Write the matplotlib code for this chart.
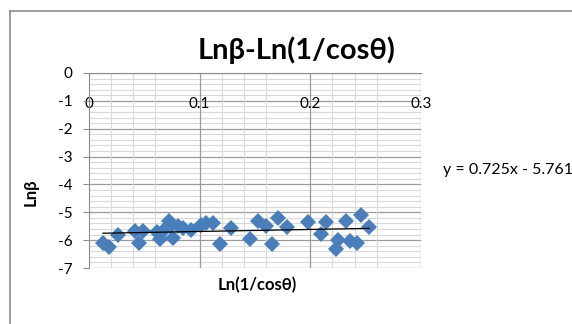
import numpy as np
import matplotlib
matplotlib.use("Agg")
import matplotlib.pyplot as plt
from matplotlib.lines import Line2D

plt.rcParams['font.family'] = ['Lato', 'DejaVu Sans']
plt.rcParams['axes.unicode_minus'] = False

# %% data
ln_inv_cos = [0.0126, 0.018, 0.0259, 0.0414, 0.0489, 0.045, 0.061, 0.064,
              0.068, 0.072, 0.073, 0.076, 0.080, 0.085, 0.0925, 0.1015,
              0.106, 0.112, 0.118, 0.1285, 0.1457, 0.1525, 0.160, 0.1655,
              0.1705, 0.1786, 0.1976, 0.2096, 0.2141, 0.2246, 0.2232,
              0.2322, 0.2358, 0.2426, 0.2457, 0.2532]
ln_beta = [-6.09, -6.24, -5.80, -5.67, -5.67, -6.09, -5.70, -5.97,
           -5.62, -5.32, -5.48, -5.94, -5.49, -5.58, -5.62, -5.44,
           -5.38, -5.38, -6.13, -5.56, -5.97, -5.32, -5.49, -6.15,
           -5.22, -5.53, -5.34, -5.77, -5.34, -6.01, -6.33,
           -5.32, -6.03, -6.09, -5.10, -5.53]
slope, intercept = 0.725, -5.761
x_ticks = [0, 0.1, 0.2, 0.3]
x_tick_labels = ["0", "0.1", "0.2", "0.3"]
y_ticks = [0, -1, -2, -3, -4, -5, -6, -7]

# %% figure
fig = plt.figure(figsize=(5.72, 3.24), dpi=100)
ax = fig.add_axes([89 / 572, 1 - 268 / 324, 332 / 572, 195 / 324])

# chart frame (left + top only visible)
fig.add_artist(Line2D([10 / 572, 10 / 572], [0, 1 - 11 / 324],
                      transform=fig.transFigure, color="#8c8c8c", lw=1.2))
fig.add_artist(Line2D([10 / 572, 1], [1 - 11 / 324, 1 - 11 / 324],
                      transform=fig.transFigure, color="#8c8c8c", lw=1.2))

ax.set_xlim(0, 0.3)
ax.set_ylim(-7, 0)

# gridlines
for y in np.arange(-7, 0.01, 0.2):
    major = abs(y - round(y)) < 1e-6
    ax.axhline(y, color="#9a9a9a" if major else "#d9d9d9",
               lw=0.9 if major else 0.8, zorder=0)
for x in [0.02, 0.04, 0.06, 0.12, 0.14, 0.16, 0.22, 0.24, 0.26]:
    ax.axvline(x, color="#d9d9d9", lw=0.8, zorder=0)
for x in [0.1, 0.2, 0.3]:
    ax.axvline(x, color="#9a9a9a", lw=0.9, zorder=0)

ax.plot(ln_inv_cos, ln_beta, "D", color="#4a7ebb", markersize=8,
        markeredgewidth=0, zorder=3)
xs = np.array([min(ln_inv_cos), max(ln_inv_cos)])
ax.plot(xs, slope * xs + intercept, color="black", lw=0.9, zorder=4)

for s in ["top", "right"]:
    ax.spines[s].set_visible(False)
ax.spines["left"].set_color("#8c8c8c")
ax.spines["bottom"].set_color("#8c8c8c")
ax.spines["bottom"].set_position(("data", 0))
ax.set_xticks(x_ticks)
ax.set_xticklabels(x_tick_labels)
ax.set_yticks(y_ticks)
ax.tick_params(axis="x", length=0, pad=17, labelsize=11, colors="black")
ax.tick_params(axis="y", length=4, width=0.8, color="#8c8c8c", pad=8,
               labelsize=11)

fig.text(297 / 572, 1 - 50 / 324, "Lnβ-Ln(1/cosθ)", fontsize=21,
         fontweight="bold", ha="center", va="center")
fig.text(257 / 572, 1 - 285 / 324, "Ln(1/cosθ)", fontsize=12,
         fontweight="bold", ha="center", va="center")
fig.text(31 / 572, 1 - 192 / 324, "Lnβ", fontsize=12, fontweight="bold",
         rotation=90, ha="center", va="center")
fig.text(443 / 572, 1 - 170 / 324, "y = 0.725x - 5.761", fontsize=11.5,
         ha="left", va="center")

fig.savefig("out.png", dpi=100)
